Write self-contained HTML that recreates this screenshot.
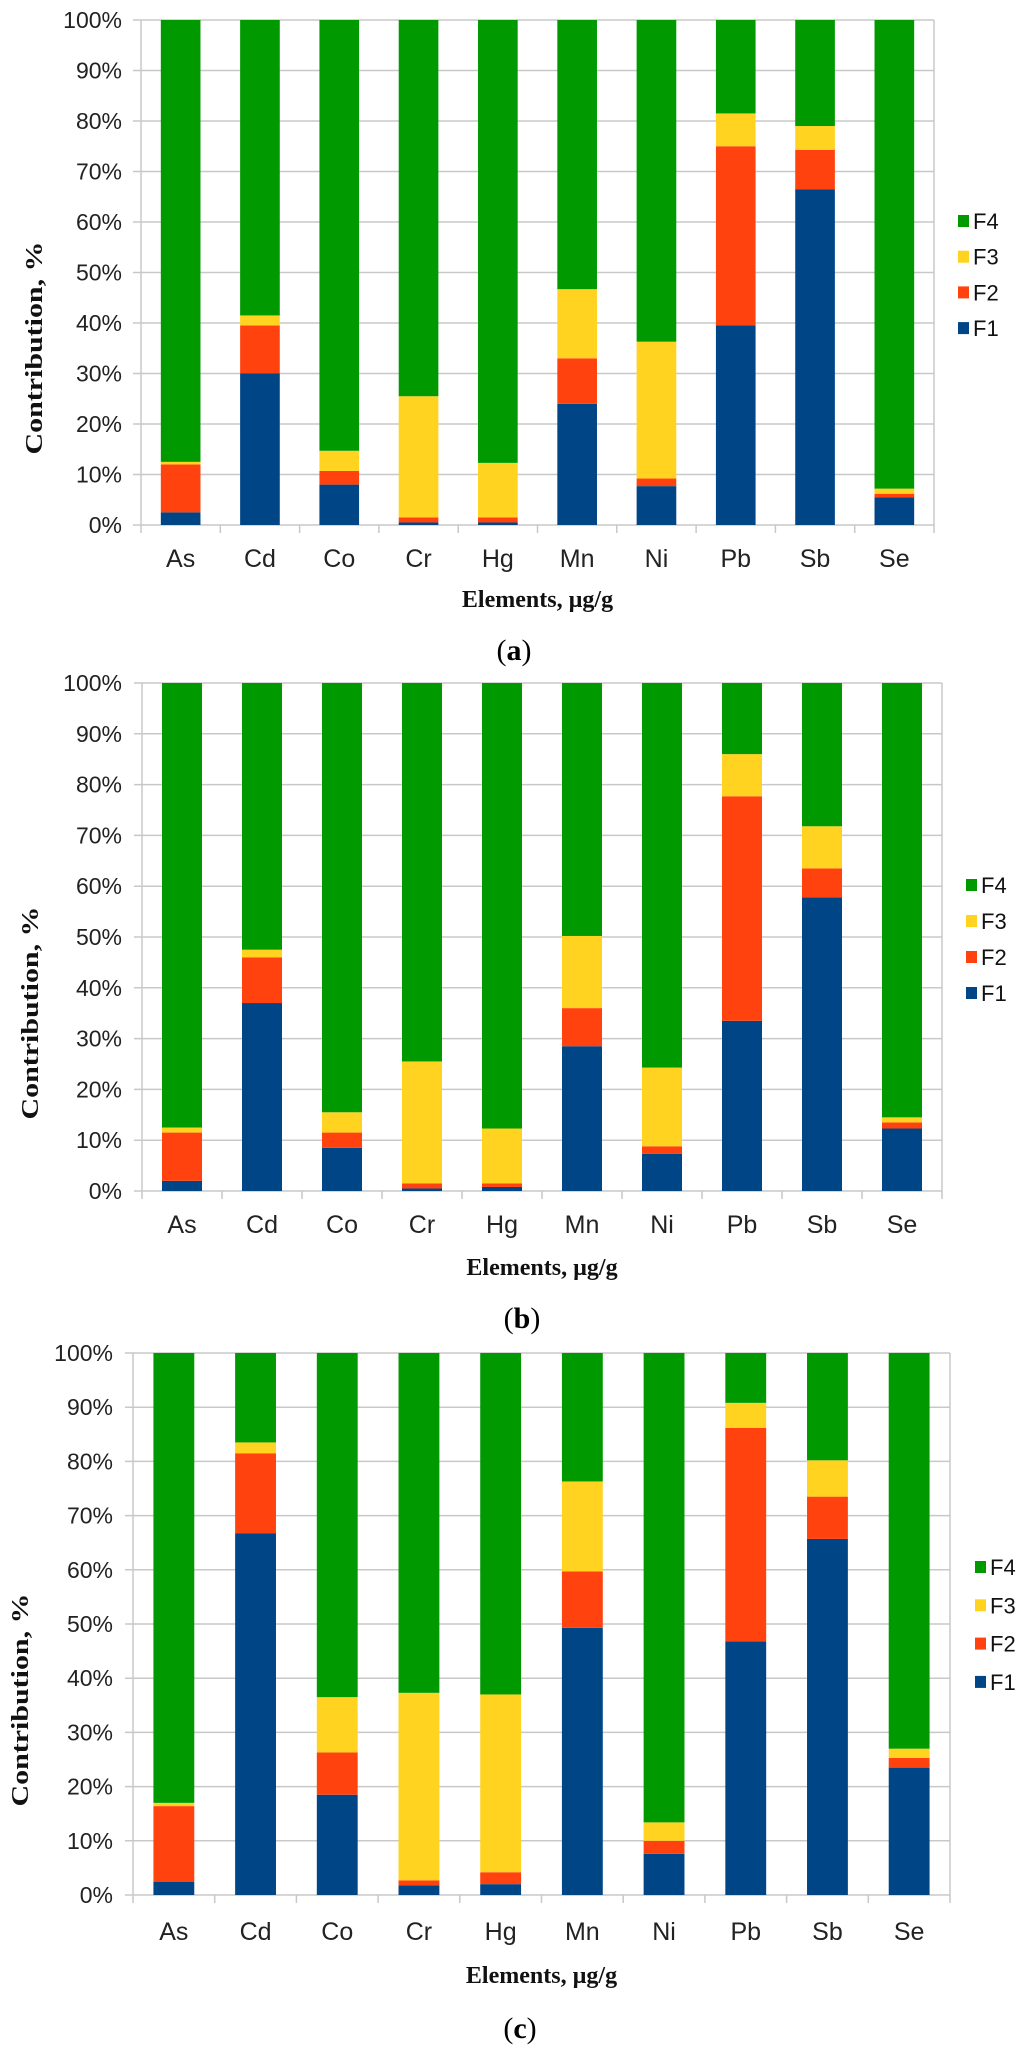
<!DOCTYPE html>
<html><head><meta charset="utf-8"><style>
html,body{margin:0;padding:0;background:#fff;}
svg{display:block;}
</style></head><body>
<svg id="fig" width="1024" height="2051" viewBox="0 0 1024 2051" xmlns="http://www.w3.org/2000/svg"></svg>
<script>
const categories = ["As","Cd","Co","Cr","Hg","Mn","Ni","Pb","Sb","Se"];
const yTickLabels = ["0%","10%","20%","30%","40%","50%","60%","70%","80%","90%","100%"];
const seriesNames = ["F1","F2","F3","F4"];
// Chart (a) fraction percentages
const aF1 = [2.5,30,8,0.5,0.5,24,7.7,39.5,66.5,5.5];
const aF2 = [9.5,9.5,2.7,1,1,9,1.5,35.5,7.8,0.7];
const aF3 = [0.5,2,4,24,10.8,13.7,27.1,6.5,4.7,1];
const aF4 = [87.5,58.5,85.3,74.5,87.7,53.3,63.7,18.5,21,92.8];
// Chart (b)
const bF1 = [2,37,8.5,0.5,0.8,28.5,7.3,33.5,57.8,12.3];
const bF2 = [9.5,9,3,1,0.7,7.5,1.5,44.2,5.7,1.2];
const bF3 = [1,1.5,4,24,10.8,14.2,15.5,8.3,8.3,1];
const bF4 = [87.5,52.5,84.5,74.5,87.7,49.8,75.7,14,28.2,85.5];
// Chart (c)
const cF1 = [2.4,66.7,18.5,1.8,2,49.3,7.6,46.8,65.7,23.5];
const cF2 = [14,14.8,7.8,0.9,2.2,10.4,2.4,39.4,7.8,1.8];
const cF3 = [0.6,2,10.2,34.6,32.8,16.6,3.4,4.6,6.7,1.7];
const cF4 = [83,16.5,63.5,62.7,63,23.7,86.6,9.2,19.8,73];

const colors = ["#004586","#ff420e","#ffd320","#009a00"];
const NS = "http://www.w3.org/2000/svg";
const svg = document.getElementById("fig");

function mk(tag, attrs, parent){
  const e = document.createElementNS(NS, tag);
  for (const k in attrs) e.setAttribute(k, attrs[k]);
  (parent||svg).appendChild(e);
  return e;
}

function drawChart(id, cfg, series){
  const g = mk("g", {});
  
  
  const L = cfg.left, R = cfg.right, T = cfg.top, B = cfg.bottom;
  const yScale = v => B - (v/100)*(B - T);
  const band = (R - L)/categories.length;
  const xScale = i => L + band*i + band/2;
  yTickLabels.forEach((lab, k) => {
    const y = yScale(k*10);
    const ln = mk("line", {x1:L-8, x2:R, y1:y, y2:y, stroke:"#c8c8c8", "stroke-width":1.5}, g);
    
    
    const t = mk("text", {x:cfg.labelRight, y:y+8, "text-anchor":"end", "font-family":"Liberation Sans, sans-serif", "font-size":23, fill:"#222"}, g);
    t.textContent = lab;
    
    
  });
  const ax = mk("line", {x1:L, x2:L, y1:T, y2:B+8, stroke:"#c8c8c8", "stroke-width":1.5}, g);
  
  
  const rb = mk("line", {x1:R, x2:R, y1:T, y2:B+8, stroke:"#c8c8c8", "stroke-width":1.5}, g);
  
  
  for (let i=1;i<categories.length;i++){
    const x = L + band*i;
    const tk = mk("line", {x1:x, x2:x, y1:B, y2:B+8, stroke:"#c8c8c8", "stroke-width":1.5}, g);
    
    
  }
  const bw = band*0.5;
  categories.forEach((c, i) => {
    let cum = 0;
    series.forEach((arr, s) => {
      const v = arr[i];
      const y1 = yScale(cum + v), y0 = yScale(cum);
      const r = mk("rect", {x:xScale(i)-bw/2, y:y1, width:bw, height:Math.max(0,y0-y1), fill:colors[s]}, g);
      
      
      cum += v;
    });
    const t = mk("text", {x:xScale(i), y:cfg.catBase, "text-anchor":"middle", "font-family":"Liberation Sans, sans-serif", "font-size":25, fill:"#222"}, g);
    t.textContent = c;
    
    
  });
  const xt = mk("text", {x:(L+R)/2, y:cfg.xTitleBase, "text-anchor":"middle", "font-family":"Liberation Serif, serif", "font-weight":"bold", "font-size":24, fill:"#111"}, g);
  xt.textContent = "Elements, µg/g";
  
  
  const yt = mk("text", {x:0, y:0, "text-anchor":"middle", "font-family":"Liberation Serif, serif", "font-weight":"bold", "font-size":24, fill:"#111", textLength:213, lengthAdjust:"spacingAndGlyphs", transform:"translate("+(cfg.yTitleX+8)+","+cfg.yTitleY+") rotate(-90)"}, g);
  yt.textContent = "Contribution, %";
  
  
  [3,2,1,0].forEach((s, k) => {
    const cy = cfg.legTop + k*cfg.legGap;
    const sq = mk("rect", {x:cfg.legX, y:cy-6, width:11, height:12, fill:colors[s]}, g);
    
    
    const t = mk("text", {x:cfg.legX+15, y:cy+8, "font-family":"Liberation Sans, sans-serif", "font-size":22, fill:"#111"}, g);
    t.textContent = seriesNames[s];
    
    
  });
  const pl = mk("text", {x:cfg.panelX, y:cfg.panelBase, "text-anchor":"middle", "font-family":"Liberation Serif, serif", "font-size":30, fill:"#000"}, g);
  pl.innerHTML = '(<tspan font-weight="bold">' + id + '</tspan>)';
  
  
}

drawChart("a", {left:141, right:934, top:20, bottom:525, labelRight:122, catBase:567, xTitleBase:607,
  yTitleX:34, yTitleY:348, legX:958, legTop:221, legGap:35.7, panelX:514, panelBase:660}, [aF1,aF2,aF3,aF4]);
drawChart("b", {left:142, right:942, top:683, bottom:1191, labelRight:122, catBase:1233, xTitleBase:1275,
  yTitleX:30, yTitleY:1013, legX:966, legTop:885, legGap:36, panelX:522, panelBase:1328}, [bF1,bF2,bF3,bF4]);
drawChart("c", {left:133, right:950, top:1353, bottom:1895, labelRight:113, catBase:1940, xTitleBase:1983,
  yTitleX:20, yTitleY:1700, legX:975, legTop:1567, legGap:38.3, panelX:520, panelBase:2038}, [cF1,cF2,cF3,cF4]);
</script>
</body></html>
